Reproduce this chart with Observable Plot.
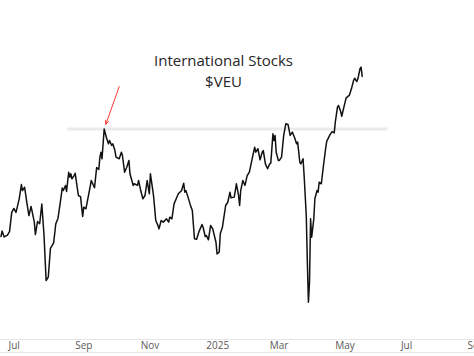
<!DOCTYPE html>
<html><head><meta charset="utf-8">
<script src="https://cdn.jsdelivr.net/npm/d3@7"></script>
<script src="https://cdn.jsdelivr.net/npm/@observablehq/plot@0.6"></script>
<style>
html,body{margin:0;padding:0;background:#fff;overflow:hidden;}
#chart{width:474px;border-bottom:1px solid #e6e6e6;}
#chart svg{display:block;}
</style>
</head><body><div id="chart"></div>
<script>
const titleLines = ["International Stocks", "$VEU"];

const dates = ["2024-06-24","2024-06-25","2024-06-27","2024-06-30","2024-07-02","2024-07-04","2024-07-06","2024-07-08","2024-07-11","2024-07-13",
"2024-07-14","2024-07-16","2024-07-18","2024-07-20","2024-07-22","2024-07-25","2024-07-26","2024-07-28","2024-07-30","2024-08-01",
"2024-08-03","2024-08-05","2024-08-07","2024-08-09","2024-08-12","2024-08-14","2024-08-16","2024-08-18","2024-08-20","2024-08-21",
"2024-08-23","2024-08-24","2024-08-26","2024-08-27","2024-08-28","2024-08-29","2024-08-31","2024-09-01","2024-09-04","2024-09-06",
"2024-09-08","2024-09-09","2024-09-11","2024-09-14","2024-09-16","2024-09-19","2024-09-21","2024-09-23","2024-09-24","2024-09-25",
"2024-09-26","2024-09-28","2024-09-30","2024-10-02","2024-10-03","2024-10-05","2024-10-06","2024-10-08","2024-10-09","2024-10-12",
"2024-10-14","2024-10-15","2024-10-17","2024-10-19","2024-10-21","2024-10-22","2024-10-25","2024-10-26","2024-10-29","2024-10-30",
"2024-11-01","2024-11-03","2024-11-05","2024-11-07","2024-11-09","2024-11-10","2024-11-12","2024-11-13","2024-11-15","2024-11-17",
"2024-11-18","2024-11-20","2024-11-22","2024-11-25","2024-11-27","2024-11-28","2024-11-30","2024-12-02","2024-12-04","2024-12-06",
"2024-12-09","2024-12-11","2024-12-12","2024-12-13","2024-12-15","2024-12-17","2024-12-19","2024-12-21","2024-12-23","2024-12-25",
"2024-12-28","2024-12-29","2024-12-31","2025-01-01","2025-01-03","2025-01-05","2025-01-07","2025-01-10","2025-01-11","2025-01-13",
"2025-01-14","2025-01-16","2025-01-19","2025-01-21","2025-01-23","2025-01-24","2025-01-27","2025-01-29","2025-01-31","2025-02-01",
"2025-02-02","2025-02-04","2025-02-06","2025-02-08","2025-02-10","2025-02-13","2025-02-15","2025-02-16","2025-02-18","2025-02-20",
"2025-02-22","2025-02-23","2025-02-25","2025-02-27","2025-03-01","2025-03-02","2025-03-04","2025-03-05","2025-03-06","2025-03-07",
"2025-03-09","2025-03-10","2025-03-12","2025-03-14","2025-03-16","2025-03-18","2025-03-20","2025-03-22","2025-03-24","2025-03-26",
"2025-03-27","2025-03-29","2025-03-30","2025-04-01","2025-04-02","2025-04-04","2025-04-05","2025-04-06","2025-04-07","2025-04-08",
"2025-04-09","2025-04-11","2025-04-12","2025-04-14","2025-04-15","2025-04-16","2025-04-18","2025-04-20","2025-04-22","2025-04-23",
"2025-04-26","2025-04-28","2025-04-30","2025-05-01","2025-05-03","2025-05-04","2025-05-06","2025-05-07","2025-05-09","2025-05-11",
"2025-05-13","2025-05-14","2025-05-16","2025-05-18","2025-05-19","2025-05-21","2025-05-22","2025-05-24","2025-05-25","2025-05-26"];

const prices = [58.57,58.87,58.55,58.65,58.85,59.89,60.11,59.89,60.65,61.42,
61.09,61.27,60.45,59.72,60.22,59.36,58.68,59.39,59.27,60.35,
58.68,56.16,56.35,57.92,58.22,59.27,59.56,60.36,61.23,61.09,
61.37,61.04,62.09,61.82,62.01,61.73,61.91,62.04,60.82,60.76,
59.67,60.18,60.09,61.00,61.64,61.24,62.35,62.24,62.90,63.19,
62.83,64.46,64.01,63.65,63.83,63.56,63.65,63.28,62.92,62.83,
63.19,63.01,62.09,62.37,62.74,62.01,61.37,61.46,61.37,61.64,
61.09,60.64,60.82,61.64,60.91,62.01,61.19,60.76,59.45,59.18,
58.99,59.45,59.36,59.54,59.36,59.63,59.54,60.36,60.64,60.91,
61.09,61.49,61.00,61.09,60.73,60.33,60.00,58.45,58.42,58.81,
59.23,59.08,58.57,58.63,58.39,59.18,58.99,58.26,57.62,57.71,
58.72,59.08,60.27,60.45,61.00,60.69,60.73,61.46,60.82,60.27,
61.09,61.64,61.37,61.91,62.09,62.92,63.46,63.19,63.38,62.77,
63.19,63.28,62.55,62.28,62.55,62.59,64.20,63.83,64.11,63.19,
62.74,62.74,62.92,64.11,64.75,64.71,64.11,64.29,64.01,63.65,
63.74,62.64,62.55,62.83,61.91,59.72,57.16,54.97,56.07,59.54,
58.53,59.54,60.64,61.09,61.00,61.55,61.46,62.46,63.38,63.78,
64.14,64.32,64.25,64.83,65.66,65.75,65.42,65.16,65.66,66.15,
66.26,66.30,66.66,67.12,67.24,67.06,67.21,67.76,67.85,67.34];

const tickDates = ["2024-07-01","2024-09-01","2024-11-01","2025-01-01","2025-03-01","2025-05-01","2025-07-01","2025-09-01"];
const tickLabels = ["Jul","Sep","Nov","2025","Mar","May","Jul","Sep"];

const peakDate = "2024-09-28";
const resistanceSpan = ["2024-08-25", "2025-06-19"];
const arrowTail = {date: "2024-10-12", price: 66.79};

const data = dates.map((d, i) => ({date: new Date(d), price: prices[i]}));
const peak = data.find(d => +d.date === +new Date(peakDate));
const labelMap = new Map(tickDates.map((d, i) => [+new Date(d), tickLabels[i]]));

// layout of the time axis (pixels per day and offset of the first tick)
const W = 474, H = 352, MB = 13;
const day = 864e5, pxPerDay = 1.075, firstTickPx = 8;
const t0 = +new Date(tickDates[0]);
const xDomain = [new Date(t0 - firstTickPx / pxPerDay * day), new Date(t0 + (W - firstTickPx) / pxPerDay * day)];
const yDomain = [52.93, 71.5];

const chart = Plot.plot({
  width: W, height: H,
  marginTop: 0, marginLeft: 0, marginRight: 0, marginBottom: MB,
  style: {fontFamily: "'Open Sans', sans-serif", background: "#fff"},
  x: {type: "utc", domain: xDomain},
  y: {domain: yDomain, axis: null},
  marks: [
    Plot.ruleY([yDomain[0]], {stroke: "#e6e6e6", strokeWidth: 1}),
    Plot.ruleY([peak.price], {x1: new Date(resistanceSpan[0]), x2: new Date(resistanceSpan[1]), stroke: "#ebebeb", strokeWidth: 3}),
    Plot.line(data, {x: "date", y: "price", stroke: "#111", strokeWidth: 1.5}),
    Plot.arrow([{x1: new Date(arrowTail.date), y1: arrowTail.price, x2: peak.date, y2: peak.price}],
      {x1: "x1", y1: "y1", x2: "x2", y2: "y2", stroke: "#ff3b3b", strokeWidth: 1, headLength: 6, headAngle: 50, insetEnd: 5}),
    Plot.text([titleLines.join("\n")], {frameAnchor: "top", dx: -14, dy: 51, lineAnchor: "top", fontSize: 15, lineHeight: 1.4, fill: "#262626"}),
    Plot.axisX({ticks: tickDates.map(d => new Date(d)), tickFormat: d => labelMap.get(+d), tickSize: 0, tickPadding: 2.5,
      textAnchor: "start", fontSize: 10, color: "#595959", label: null})
  ]
});
document.getElementById("chart").appendChild(chart);
</script>
</body></html>
